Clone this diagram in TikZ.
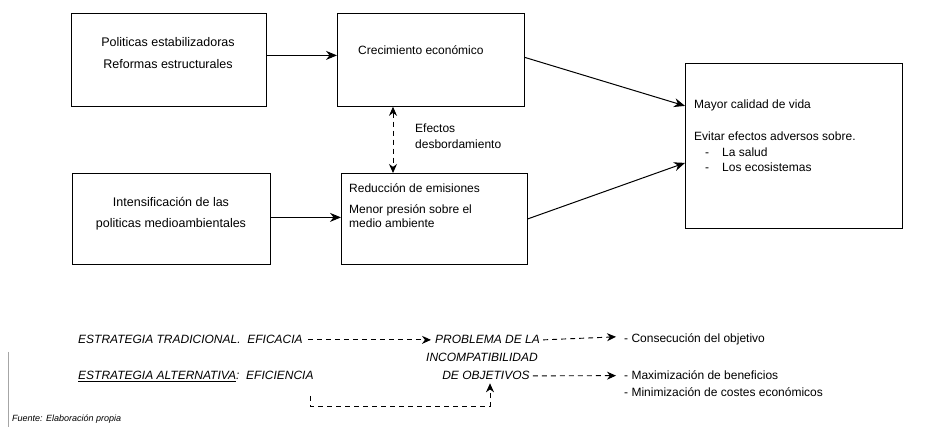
\documentclass[tikz,border=0pt]{standalone}
\usepackage{fontspec}
\setmainfont{Liberation Sans}
\usetikzlibrary{arrows.meta,calc}
\tikzset{
 box/.style={draw, line width=0.8pt, anchor=north west, inner sep=0pt},
 txt/.style={anchor=base west, inner sep=0pt, font=\fontsize{12}{14}\selectfont},
 ctxt/.style={anchor=base, inner sep=0pt, font=\fontsize{12.5}{14}\selectfont},
 itxt/.style={anchor=base west, inner sep=0pt, font=\fontsize{12}{14}\selectfont\itshape},
 ictxt/.style={anchor=base, inner sep=0pt, font=\fontsize{12}{14}\selectfont\itshape},
 arr/.style={line width=1pt, -{Stealth[length=11pt,width=9pt]}},
 darr/.style={line width=0.9pt, dash pattern=on 5pt off 4pt, -{Stealth[length=9pt,width=8pt]}},
}
\begin{document}
\begin{tikzpicture}[x=1pt,y=-1pt]
\useasboundingbox (0,0) rectangle (929,427);
\fill[white] (0,0) rectangle (929,427);
% boxes
\node[box, minimum width=195pt, minimum height=93pt] (b1) at (71,13) {};
\node[box, minimum width=187pt, minimum height=93pt] (b2) at (337,13) {};
\node[box, minimum width=198pt, minimum height=91pt] (b3) at (72,173) {};
\node[box, minimum width=186pt, minimum height=91pt] (b4) at (341,173) {};
\node[box, minimum width=217pt, minimum height=165pt] (b5) at (685,63) {};
% box texts
\node[ctxt] (t11) at (168,47) {Politicas estabilizadoras};
\node[ctxt] (t12) at (168,69) {Reformas estructurales};
\node[txt] (t21) at (358,55) {Crecimiento económico};
\node[ctxt] (t31) at (171,207) {Intensificación de las};
\node[ctxt] (t32) at (171,228) {politicas medioambientales};
\node[txt] (t41) at (349,193) {Reducción de emisiones};
\node[txt] (t42) at (349,214) {Menor presión sobre el};
\node[txt] (t43) at (349,228) {medio ambiente};
\node[txt] (t51) at (694,109) {Mayor calidad de vida};
\node[txt] (t52) at (694,141) {Evitar efectos adversos sobre.};
\node[txt] (d1) at (705,157) {-};
\node[txt] (t53) at (722,157) {La salud};
\node[txt] (d2) at (705,172) {-};
\node[txt] (t54) at (722,172) {Los ecosistemas};
\node[txt] (ef1) at (415,133) {Efectos};
\node[txt] (ef2) at (415,149) {desbordamiento};
% arrows
\draw[arr] ([yshift=4.5pt]b1.east) -- ([yshift=4.5pt]b2.west);
\draw[arr] ([yshift=1.5pt]b3.east) -- ([yshift=1.5pt]b4.west);
\draw[arr] ([yshift=2.5pt]b2.east) -- ([yshift=40pt]b5.west);
\draw[arr] ([yshift=0pt]b4.east) -- ([yshift=-17pt]b5.west);
\draw[darr, {Stealth[length=9pt,width=8pt]}-{Stealth[length=9pt,width=8pt]}] (b2.south -| 393,0) -- (b4.north -| 393,0);
% bottom
\node[itxt] (trad) at (78,344) {ESTRATEGIA TRADICIONAL.\ \ EFICACIA};
\node[itxt] (prob) at (435,344) {PROBLEMA DE LA};
\node[ictxt] (inc) at (482,362) {INCOMPATIBILIDAD};
\node[ictxt] (deobj) at (486,380) {DE OBJETIVOS};
\node[itxt] (alt) at (78,380) {\underline{ESTRATEGIA ALTERNATIVA}:\ \ EFICIENCIA};
\node[txt] (cons) at (624,343) {- Consecución del objetivo};
\node[txt] (maxi) at (624,380) {- Maximización de beneficios};
\node[txt] (mini) at (624,397) {- Minimización de costes económicos};
\draw[darr] ([xshift=5pt]trad.east) -- ([xshift=-4pt]prob.west);
\draw[darr] ([xshift=3pt]prob.east) -- ([xshift=-8pt,yshift=3pt]cons.west);
\draw[darr] ([xshift=3pt]deobj.east) -- ([xshift=-8pt]maxi.west);
\coordinate (e1) at (310,396);
\coordinate (e2) at (310,406);
\draw[darr] (e1) -- (e2) -| ([xshift=4pt,yshift=-3pt]deobj.south);
% left margin line and source
\draw[gray!70, line width=0.6pt] (8,352) -- (8,427);
\node[anchor=base west, inner sep=0pt, font=\fontsize{9}{10}\selectfont\itshape] (src) at (12,421) {Fuente: Elaboración propia};
\end{tikzpicture}
\end{document}
